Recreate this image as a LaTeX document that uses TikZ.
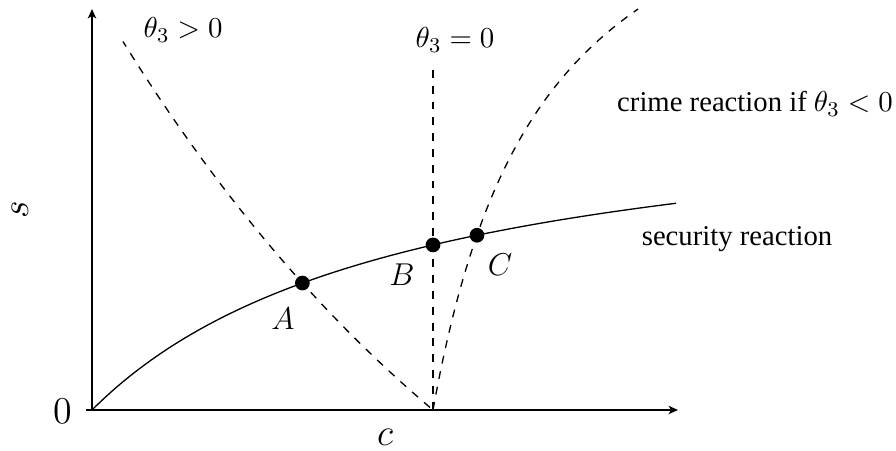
\documentclass[tikz,border=0pt]{standalone}
\usepackage[no-math]{fontspec}
\setmainfont{Liberation Serif}
\usetikzlibrary{arrows.meta,intersections}
\tikzset{
  axis/.style={line width=0.5pt,-{Stealth[length=3.6pt,width=3.2pt,inset=1pt]}},
  curve/.style={line width=0.5pt},
  dcurve/.style={line width=0.5pt,dashed},
  eqpt/.style={circle,fill=black,inner sep=0pt,minimum size=5.6pt},
  lbl/.style={font=\fontsize{10.9}{13}\selectfont,inner sep=0pt},
  ptlbl/.style={font=\fontsize{12}{14}\selectfont,inner sep=0pt},
  axlbl/.style={font=\fontsize{15.8}{18}\selectfont,inner sep=0pt}
}
\begin{document}
\begin{tikzpicture}[x=0.38pt,y=-0.38pt]
\useasboundingbox (0,0) rectangle (896,451);
% axes
\coordinate (O) at (92,410);
\coordinate (xs) at (86,410);
\coordinate (xe) at (678,410);
\coordinate (ye) at (92,9);
\draw[axis] (xs) -- (xe);
\draw[axis] (O) -- (ye);
% security reaction
\draw[curve,name path=sec] plot[domain=0:584,samples=120,variable=\u] ({92+\u},{410-320*(\u/(\u+320))});
% theta3 > 0
\draw[dcurve,name path=left] plot[domain=3:310,samples=100,variable=\u] ({433-\u},{410-406*(exp(\u/480)-1)});
% theta3 = 0
\coordinate (vt) at (433,70);
\coordinate (vb) at (433,410);
\draw[dcurve,name path=vert] (vt) -- (vb);
% theta3 < 0
\draw[dcurve,name path=right] plot[domain=0:401,samples=100,variable=\h] ({433+112*(\h/(620-\h))},{410-\h});
% equilibria
\path[name intersections={of=sec and left,by=A}];
\path[name intersections={of=sec and vert,by=B}];
\path[name intersections={of=sec and right,by=C}];
\node[eqpt] (pA) at (A) {};
\node[eqpt] (pB) at (B) {};
\node[eqpt] (pC) at (C) {};
% labels
\node[ptlbl] (lA) at (283,319) {$A$};
\node[ptlbl] (lB) at (402,275) {$B$};
\node[ptlbl] (lC) at (500,265) {$C$};
\node[lbl] (t1) at (183,30) {$\theta_3>0$};
\node[lbl] (t2) at (455,40) {$\theta_3=0$};
\node[lbl] (t3) at (755,104) {crime reaction if $\theta_3<0$};
\node[lbl] (t4) at (737,239) {security reaction};
\node[axlbl] (l0) at (62.5,411) {$0$};
\node[axlbl] (lc) at (385,437) {$c$};
\node[axlbl,rotate=90] (ls) at (20,210) {$s$};
\end{tikzpicture}
\end{document}
